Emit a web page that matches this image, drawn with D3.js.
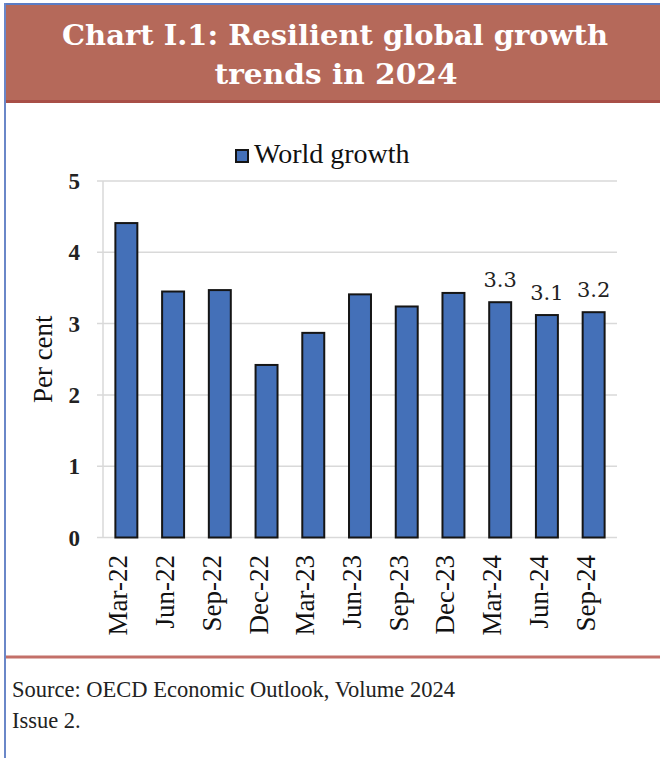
<!DOCTYPE html>
<html>
<head>
<meta charset="utf-8">
<script src="https://cdn.jsdelivr.net/npm/d3@7"></script>
<style>
  html, body { margin: 0; padding: 0; background: #fff; }
  svg { display: block; }
</style>
</head>
<body>
<div id="chart"></div>
<script>
// data
const periods = ["Mar-22", "Jun-22", "Sep-22", "Dec-22", "Mar-23", "Jun-23", "Sep-23", "Dec-23", "Mar-24", "Jun-24", "Sep-24"];
const worldGrowth = [4.41, 3.45, 3.47, 2.42, 2.87, 3.41, 3.24, 3.43, 3.3, 3.12, 3.16];
const valueLabels = [null, null, null, null, null, null, null, null, "3.3", "3.1", "3.2"];
const yTicks = [0, 1, 2, 3, 4, 5];

const width = 660, height = 758;
const serif = "'Liberation Serif', 'DejaVu Serif', serif";
const wideSerif = "'DejaVu Serif', 'Liberation Serif', serif";

const svg = d3.select("#chart").append("svg")
  .attr("width", width)
  .attr("height", height);

// --- frame: blue edge, title band, bottom rule ---
svg.append("rect").attr("x", 5).attr("y", 5).attr("width", width - 5).attr("height", 97)
  .attr("fill", "#b5695a");
svg.append("rect").attr("x", 5).attr("y", 100).attr("width", width - 5).attr("height", 3)
  .attr("fill", "#a84f47");
svg.append("line").attr("x1", 4).attr("x2", width).attr("y1", 4).attr("y2", 4)
  .attr("stroke", "#5b7cc4").attr("stroke-width", 2);
svg.append("line").attr("x1", 5).attr("x2", 5).attr("y1", 3).attr("y2", height)
  .attr("stroke", "#6a87c8").attr("stroke-width", 2);
svg.append("line").attr("x1", 6).attr("x2", width).attr("y1", 657).attr("y2", 657)
  .attr("stroke", "#b9574f").attr("stroke-width", 3).attr("stroke-opacity", 0.85);

// title (fitted to the width of the original heading)
const title = svg.append("text")
  .attr("text-anchor", "middle")
  .attr("fill", "#fff")
  .style("font-family", wideSerif)
  .style("font-weight", "bold")
  .style("font-size", "27px");
title.append("tspan").attr("x", 335).attr("y", 45)
  .attr("textLength", 546).attr("lengthAdjust", "spacingAndGlyphs")
  .text("Chart I.1: Resilient global growth");
title.append("tspan").attr("x", 336).attr("y", 84)
  .attr("textLength", 243).attr("lengthAdjust", "spacingAndGlyphs")
  .text("trends in 2024");

// --- scales ---
const x = d3.scaleBand().domain(periods).range([103, 617]).paddingInner(0.53).paddingOuter(0.265);
const y = d3.scaleLinear().domain([0, 5]).range([537.5, 181]);

// gridlines
svg.append("g")
  .selectAll("line")
  .data(yTicks)
  .join("line")
    .attr("x1", 97).attr("x2", 617)
    .attr("y1", d => y(d)).attr("y2", d => y(d))
    .attr("stroke", "#d9d9d9").attr("stroke-width", 1.5);

// y axis line
svg.append("line")
  .attr("x1", 103).attr("x2", 103).attr("y1", y(5)).attr("y2", y(0))
  .attr("stroke", "#d9d9d9").attr("stroke-width", 1.5);

// y tick labels
svg.append("g")
  .selectAll("text")
  .data(yTicks)
  .join("text")
    .attr("x", 80).attr("y", d => y(d))
    .attr("dy", "0.35em")
    .attr("text-anchor", "end")
    .attr("fill", "#222")
    .style("font-family", serif)
    .style("font-weight", "bold")
    .style("font-size", "23px")
    .text(d => d);

// y title
svg.append("text")
  .attr("transform", `translate(52, ${y(2.5)}) rotate(-90)`)
  .attr("text-anchor", "middle")
  .attr("fill", "#111")
  .style("font-family", serif)
  .style("font-size", "27px")
  .text("Per cent");

// bars
svg.append("g")
  .selectAll("rect")
  .data(worldGrowth)
  .join("rect")
    .attr("x", (d, i) => x(periods[i]))
    .attr("width", x.bandwidth())
    .attr("y", d => y(d))
    .attr("height", d => y(0) - y(d))
    .attr("fill", "#4470b8")
    .attr("stroke", "#151515")
    .attr("stroke-width", 2);

// data labels on the last bars
svg.append("g")
  .selectAll("text")
  .data(worldGrowth)
  .join("text")
    .attr("x", (d, i) => x(periods[i]) + x.bandwidth() / 2)
    .attr("y", d => y(d) - 15)
    .attr("text-anchor", "middle")
    .attr("fill", "#222")
    .style("font-family", wideSerif)
    .style("font-size", "21px")
    .text((d, i) => valueLabels[i] || "");

// x tick labels (rotated)
svg.append("g")
  .selectAll("text")
  .data(periods)
  .join("text")
    .attr("transform", d => `translate(${x(d) + x.bandwidth() / 2 + 1}, 555) rotate(-90)`)
    .attr("text-anchor", "end")
    .attr("fill", "#111")
    .style("font-family", serif)
    .style("font-size", "27px")
    .text(d => d);

// legend
const legend = svg.append("g").attr("transform", "translate(236, 150)");
legend.append("rect").attr("width", 12).attr("height", 12)
  .attr("fill", "#4470b8").attr("stroke", "#151515").attr("stroke-width", 2);
legend.append("text").attr("x", 18).attr("y", 13)
  .attr("fill", "#111")
  .style("font-family", serif)
  .style("font-size", "28px")
  .text("World growth");

// source note
const note = svg.append("text")
  .attr("fill", "#222")
  .style("font-family", serif)
  .style("font-size", "22.5px");
note.append("tspan").attr("x", 12).attr("y", 697).text("Source: OECD Economic Outlook, Volume 2024");
note.append("tspan").attr("x", 12).attr("y", 728).text("Issue 2.");
</script>
</body>
</html>
